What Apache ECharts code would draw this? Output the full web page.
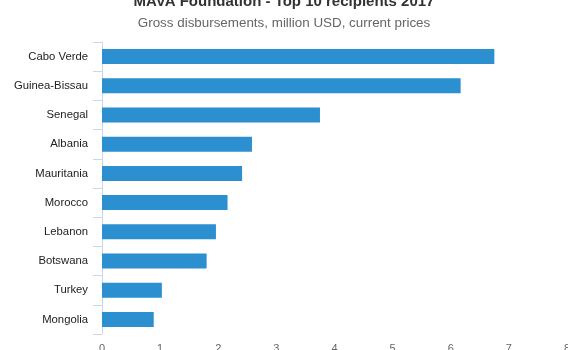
<!DOCTYPE html>
<html><head><meta charset="utf-8">
<script src="https://cdn.jsdelivr.net/npm/echarts@6/dist/echarts.min.js"></script>
<style>html,body{margin:0;padding:0;background:#fff}#c{width:568px;height:350px}</style>
</head><body><div id="c"></div>
<script>
const categories = ["Cabo Verde","Guinea-Bissau","Senegal","Albania","Mauritania","Morocco","Lebanon","Botswana","Turkey","Mongolia"];
const values = [6.75, 6.17, 3.75, 2.58, 2.41, 2.16, 1.96, 1.80, 1.03, 0.89];
const xTicks = [0, 1, 2, 3, 4, 5, 6, 7, 8];

const chart = echarts.init(document.getElementById('c'), null, {renderer: 'canvas'});
chart.setOption({
  animation: false,
  textStyle: {fontFamily: 'Liberation Sans, Arial, sans-serif'},
  title: [
    {text: 'MAVA Foundation - Top 10 recipients 2017', left: 'center', top: -11,
     textStyle: {fontSize: 15, fontWeight: 'bold', color: '#333', fontFamily: 'Liberation Sans, Arial, sans-serif'}},
    {text: 'Gross disbursements, million USD, current prices', left: 'center', top: 12,
     textStyle: {fontSize: 13.4, fontWeight: 'normal', color: '#666', fontFamily: 'Liberation Sans, Arial, sans-serif'}}
  ],
  grid: {left: 102, right: 1, top: 42, bottom: 16, containLabel: false, outerBoundsMode: 'none'},
  xAxis: {
    type: 'value', min: xTicks[0], max: xTicks[xTicks.length - 1], interval: 1,
    axisLine: {show: false}, axisTick: {show: false}, splitLine: {show: false},
    axisLabel: {color: '#666', fontSize: 11, margin: 9, hideOverlap: false}
  },
  yAxis: {
    type: 'category', data: categories, inverse: true,
    axisLine: {show: true, lineStyle: {color: '#ccd6eb', width: 1}},
    axisTick: {show: true, length: 9, alignWithLabel: false, lineStyle: {color: '#ccd6eb'}},
    axisLabel: {color: '#222', fontSize: 11.3, margin: 14}
  },
  series: [{
    type: 'bar', data: values, barWidth: 15,
    itemStyle: {color: '#2b8fd0'}
  }]
});
</script></body></html>
